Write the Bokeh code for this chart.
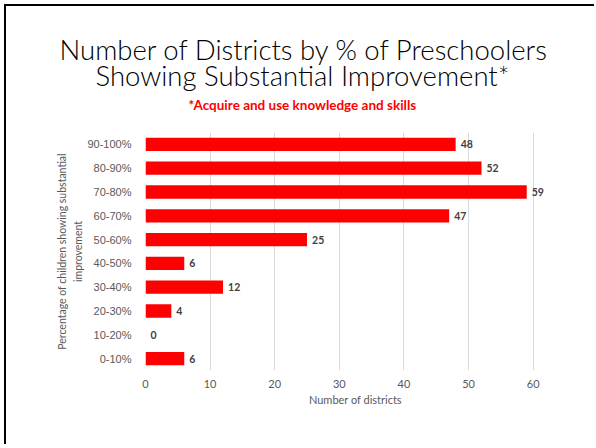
from bokeh.plotting import figure
from bokeh.models import ColumnDataSource, FactorRange, Range1d, Title
from bokeh.core.properties import value
from bokeh.embed import file_html
from bokeh.resources import INLINE

categories = ["0-10%", "10-20%", "20-30%", "30-40%", "40-50%",
              "50-60%", "60-70%", "70-80%", "80-90%", "90-100%"]
districts = [6, 0, 4, 12, 6, 25, 47, 59, 52, 48]
x_ticks = [0, 10, 20, 30, 40, 50, 60]

title_line1 = "Number of Districts by % of Preschoolers"
title_line2 = "Showing Substantial Improvement*"
subtitle = "*Acquire and use knowledge and skills"

src = ColumnDataSource(dict(cat=categories, val=districts,
                            lab=[str(v) for v in districts]))

W, H = 590, 440
p = figure(width=W, height=H, output_backend="svg", toolbar_location=None,
           y_range=FactorRange(factors=categories, range_padding=0),
           x_range=Range1d(0, 65),
           min_border_left=139, min_border_right=W - (565 - 6),
           min_border_top=126, min_border_bottom=H - 364)
p.styles = {"position": "absolute", "left": "4px", "top": "4px",
            "border-left": "2px solid #000", "border-top": "2px solid #000"}

p.outline_line_color = None
p.background_fill_color = "white"
p.border_fill_color = "white"

p.hbar(y="cat", right="val", left=0, height=0.56, source=src,
       fill_color="#ff0000", line_color=None)
p.text(x="val", y="cat", text="lab", source=src, x_offset=5,
       text_baseline="middle", text_align="left",
       text_font=value("Lato"), text_font_style="bold",
       text_font_size="10.5px", text_color="#404040")

p.xgrid.grid_line_color = "#d9d9d9"
p.ygrid.grid_line_color = None
p.xaxis.ticker = x_ticks
p.xaxis.axis_line_color = None
p.yaxis.axis_line_color = None
p.xaxis.major_tick_line_color = None
p.yaxis.major_tick_line_color = None
p.xaxis.minor_tick_line_color = None
p.yaxis.minor_tick_line_color = None

p.xaxis.major_label_text_font = "Lato"
p.xaxis.major_label_text_font_size = "11px"
p.xaxis.major_label_text_color = "#595959"
p.xaxis.major_label_standoff = 3
p.xaxis.axis_label = "Number of districts"
p.xaxis.axis_label_text_font = "Lato"
p.xaxis.axis_label_text_font_style = "normal"
p.xaxis.axis_label_text_font_size = "11px"
p.xaxis.axis_label_text_color = "#595959"
p.xaxis.axis_label_standoff = 2

p.yaxis.major_label_text_font = "Liberation Sans"
p.yaxis.major_label_text_font_size = "11px"
p.yaxis.major_label_text_color = "#595959"
p.yaxis.major_label_standoff = 8
p.yaxis.axis_label = "Percentage of children showing substantial\nimprovement"
p.yaxis.axis_label_text_font = "Lato"
p.yaxis.axis_label_text_font_style = "normal"
p.yaxis.axis_label_text_font_size = "10.5px"
p.yaxis.axis_label_text_line_height = 1.4
p.yaxis.axis_label_text_color = "#595959"
p.yaxis.axis_label_standoff = 0

# titles are left-aligned relative to the frame's left edge (page x 145)
frame_left = 145
title_font = "Lato Light, Lato"
p.add_layout(Title(text=subtitle, align="left", offset=188 - frame_left,
                   text_font="Lato", text_font_size="13.5px",
                   text_font_style="bold", text_color="#ff0000",
                   standoff=39), "above")
p.add_layout(Title(text=title_line2, align="left", offset=95 - frame_left,
                   text_font=title_font, text_font_size="27.5px",
                   text_font_style="normal", text_color="#000000",
                   standoff=-32), "above")
p.add_layout(Title(text=title_line1, align="left", offset=59 - frame_left,
                   text_font=title_font, text_font_size="27.5px",
                   text_font_style="normal", text_color="#000000",
                   standoff=13), "above")

open("out.html", "w").write(file_html(p, INLINE))
